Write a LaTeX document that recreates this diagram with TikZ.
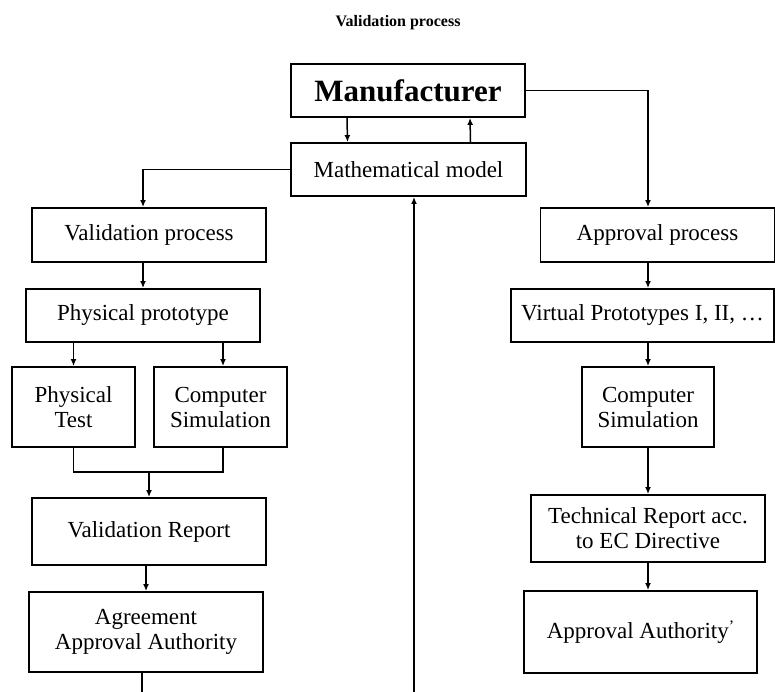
\documentclass[tikz,border=0pt]{standalone}
\usepackage{fontspec}
\setmainfont{Liberation Serif}
\usetikzlibrary{arrows.meta}
\begin{document}
\begin{tikzpicture}[x=1pt, y=-1pt, >={Latex[length=7pt,width=6pt]},
    box/.style={draw, line width=1.9pt, inner sep=2pt, align=center,
      font=\fontsize{23}{25}\selectfont},
    arr/.style={->, line width=1.5pt}]
    \useasboundingbox (0,0) rectangle (775,692);
    % Title
    \node[font=\fontsize{16}{19}\selectfont\bfseries] (title) at (398,23) {Validation process};

    % Top boxes
    \node[box, minimum width=234pt, minimum height=53pt, font=\fontsize{31}{34}\selectfont\bfseries]
      (manu) at (408,90.5) {Manufacturer};
    \node[box, minimum width=235pt, minimum height=53pt] (math) at (408.5,169.5) {Mathematical model};

    % Left column
    \node[box, minimum width=234pt, minimum height=54pt] (valproc) at (149,235) {Validation process};
    \node[box, minimum width=234pt, minimum height=53pt] (physproto) at (143,315.5) {Physical prototype};
    \node[box, minimum width=123pt, minimum height=80pt] (phystest) at (73.5,407) {Physical\\Test};
    \node[box, minimum width=133pt, minimum height=80pt] (compsimL) at (220.5,407) {Computer\\Simulation};
    \node[box, minimum width=234pt, minimum height=67pt] (valrep) at (149,531.5) {Validation Report};
    \node[box, minimum width=234pt, minimum height=80pt] (agree) at (146,632) {Agreement\\Approval Authority};

    % Right column
    \node[box, minimum width=234pt, minimum height=54pt] (approc) at (657.5,235) {Approval process};
    \node[box, minimum width=263pt, minimum height=53pt] (virt) at (642.5,315.5) {Virtual Prototypes I, II, \dots};
    \node[box, minimum width=132pt, minimum height=80pt] (compsimR) at (648,407) {Computer\\Simulation};
    \node[box, minimum width=234pt, minimum height=67pt] (techrep) at (648,528.5) {Technical Report acc.\\to EC Directive};
    \node[box, minimum width=233pt, minimum height=82pt] (appauth) at (640.5,632) {Approval Authority\raisebox{0.6ex}{\fontsize{16}{16}\selectfont’}};

    % Free ends and joins
    \coordinate (join) at (149,472);
    \coordinate (outL) at (142,692);
    \coordinate (inB) at (414,692);

    % Manufacturer <-> model
    \draw[arr] ([xshift=-61pt]manu.south) -- ([xshift=-61pt]math.north);
    \draw[arr] ([xshift=62pt]math.north) -- ([xshift=62pt]manu.south);
    \draw[arr] (inB) -- (inB |- math.south);

    % Left branch
    \draw[arr] (math.west) -| (physproto |- valproc.north);
    \draw[arr] (physproto |- valproc.south) -- (physproto.north);
    \draw[arr] (phystest |- physproto.south) -- (phystest.north);
    \draw[arr] ([xshift=2.5pt]compsimL |- physproto.south) -- ([xshift=2.5pt]compsimL.north);
    \draw[line width=1.5pt] (phystest.south) |- (join) -| ([xshift=2.5pt]compsimL.south);
    \draw[arr] (join) -- (valrep.north);
    \draw[arr] (agree.north |- valrep.south) -- (agree.north);
    \draw[line width=1.5pt] (outL |- agree.south) -- (outL);

    % Right branch
    \draw[arr] (manu.east) -| (compsimR |- approc.north);
    \draw[arr] (compsimR |- approc.south) -- (compsimR |- virt.north);
    \draw[arr] (compsimR |- virt.south) -- (compsimR.north);
    \draw[arr] (compsimR.south) -- (techrep.north);
    \draw[arr] (techrep.south) -- (techrep.south |- appauth.north);
\end{tikzpicture}
\end{document}
